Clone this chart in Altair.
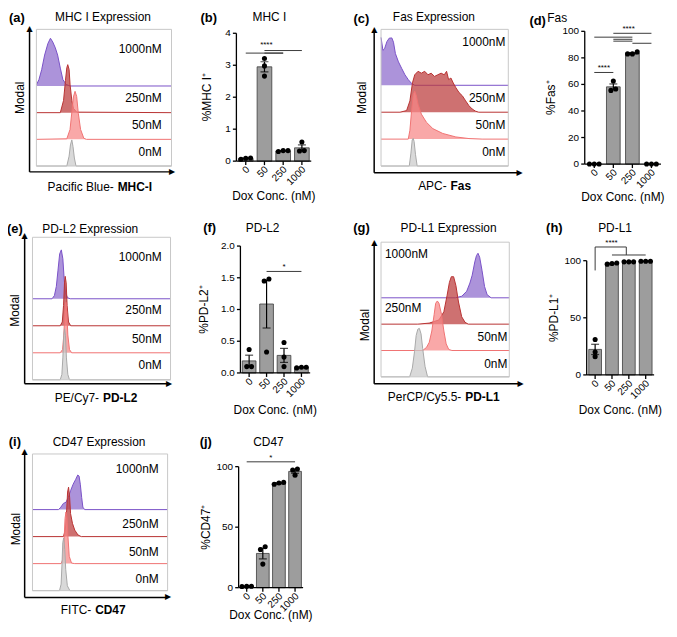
import altair as alt
import pandas as pd

FONT = "Liberation Sans"
W, H = 665, 615
SX, SY = 0.985, 0.982


def X(px):
    return round(px * SX, 2)


def Y(py):
    return round(py * SY, 2)


DOSES = ["0", "50", "250", "1000"]
ROW_NAMES = ["0nM", "50nM", "250nM", "1000nM"]

# ---------------- flow histograms: (position across box 0-100, height in row units) -------------
MHC_0 = [(22.5, 0), (24.2, 0.37), (25.2, 0.79), (26.2, 0.98), (27.1, 0.73), (28.1, 0.30), (29.3, 0)]
MHC_50 = [(22.5, 0.02), (24.9, 0.37), (26.4, 1.10), (27.4, 1.59), (28.6, 1.80), (29.8, 1.61), (31.0, 0.98),
          (32.7, 0.37), (35.1, 0.04), (37.0, 0)]
MHC_250 = [(17.7, 0), (20.1, 0.46), (21.5, 1.2), (22.5, 1.68), (23.2, 1.80), (24.2, 1.62), (24.9, 1.07),
           (26.2, 0.46), (27.4, 0.16), (29.8, 0.02)]
MHC_1000 = [(0, 0.04), (1.9, 0.24), (3.9, 0.61), (6.1, 1.16), (8.5, 1.59), (10.4, 1.79), (12.1, 1.65),
            (14.0, 1.43), (15.7, 1.16), (17.7, 0.67), (19.6, 0.24), (22.0, 0.06), (24.9, 0)]

FAS_0 = [(22.2, 0), (23.5, 0.48), (24.5, 0.97), (25.3, 1.03), (26.0, 0.91), (27.1, 0.42), (28.4, 0)]
FAS_50 = [(21.4, 0), (22.7, 0.33), (24.0, 1.05), (25.3, 1.66), (26.5, 1.78), (27.8, 1.60), (29.1, 1.30),
          (31.7, 0.93), (35.6, 0.63), (40.7, 0.39), (48.5, 0.21), (58.8, 0.08), (69.1, 0.02), (79.4, 0)]
FAS_250 = [(14.9, 0), (20.1, 0.06), (22.7, 0.42), (24.7, 1.09), (26.5, 1.39), (29.1, 1.52), (31.7, 1.45),
           (34.3, 1.52), (36.9, 1.39), (39.4, 1.45), (42.0, 1.33), (44.6, 1.39), (47.2, 1.45), (49.7, 1.39),
           (51.5, 1.52), (53.1, 1.21), (54.9, 1.27), (56.7, 1.09), (58.8, 0.91), (61.3, 0.73), (63.9, 0.61),
           (66.5, 0.42), (69.1, 0.24), (71.6, 0.12), (74.2, 0.04), (76.8, 0)]
FAS_1000 = [(0, 1.78), (1.5, 1.30), (2.8, 1.36), (4.6, 1.62), (6.4, 1.75), (8.5, 1.76), (9.8, 1.60),
            (11.3, 1.18), (13.7, 0.87), (16.2, 0.63), (18.8, 0.39), (21.4, 0.21), (24.0, 0.07), (26.5, 0)]

PDL2_0 = [(20.1, 0), (21.3, 0.20), (22.0, 0.81), (22.7, 1.65), (23.2, 1.89), (23.9, 1.65), (24.6, 0.81),
          (25.6, 0.20), (26.8, 0)]
PDL2_50 = [(20.1, 0), (21.8, 0.12), (22.7, 0.66), (23.5, 1.51), (24.2, 1.87), (24.9, 1.51), (25.6, 0.66),
           (26.8, 0.12), (28.4, 0)]
PDL2_250 = [(20.1, 0), (21.6, 0.14), (22.5, 0.75), (23.2, 1.59), (23.7, 1.83), (24.4, 1.59), (25.1, 0.75),
            (26.1, 0.14), (27.7, 0)]
PDL2_1000 = [(14.2, 0), (15.9, 0.12), (17.3, 0.46), (18.5, 1.06), (19.7, 1.66), (20.9, 1.81), (22.0, 1.48),
             (23.0, 0.70), (23.9, 0.22), (25.4, 0.04), (27.3, 0)]

PDL1_0 = [(22.3, 0), (24.4, 0.33), (26.1, 0.95), (27.4, 1.57), (28.7, 1.81), (29.9, 1.84), (31.2, 1.63),
          (32.5, 1.07), (34.3, 0.40), (36.3, 0)]
PDL1_50 = [(32.5, 0), (35.5, 0.12), (37.6, 0.31), (39.6, 0.74), (41.4, 1.36), (42.6, 1.79), (43.9, 1.88),
           (45.2, 1.79), (47.2, 1.36), (49.0, 0.74), (50.8, 0.25), (52.8, 0.04), (55.3, 0)]
PDL1_250 = [(28.7, 0), (37.6, 0.04), (45.2, 0.16), (49.0, 0.47), (51.5, 1.09), (53.3, 1.58), (54.8, 1.80),
            (56.6, 1.80), (58.4, 1.46), (60.4, 0.84), (62.9, 0.28), (65.5, 0.07), (68.0, 0)]
PDL1_1000 = [(57.9, 0), (63.0, 0.06), (66.8, 0.25), (69.3, 0.56), (71.1, 0.86), (73.1, 1.36), (74.4, 1.60),
             (75.6, 1.69), (76.9, 1.54), (78.7, 1.05), (80.7, 0.43), (82.7, 0.12), (85.8, 0)]

CD47_0 = [(20.0, 0), (21.2, 0.24), (21.9, 1.04), (22.4, 1.77), (23.1, 1.95), (23.9, 1.52), (24.6, 0.79),
          (25.8, 0.18), (27.7, 0)]
CD47_50 = [(21.2, 0), (22.4, 0.15), (23.4, 0.88), (24.1, 1.67), (24.8, 1.91), (25.5, 1.73), (26.3, 0.98),
           (27.2, 0.27), (28.9, 0.02), (31.3, 0)]
CD47_250 = [(22.9, 0), (24.3, 0.24), (25.3, 0.98), (26.0, 1.65), (26.7, 1.83), (27.5, 1.46), (28.2, 0.85),
            (29.6, 0.49), (31.3, 0.24), (33.7, 0.06), (36.1, 0)]
CD47_1000 = [(19.3, 0), (21.0, 0.09), (22.9, 0.23), (24.8, 0.27), (26.5, 0.45), (28.2, 0.70), (30.1, 0.94),
             (32.0, 1.12), (33.5, 1.28), (34.5, 1.24), (35.4, 0.94), (36.4, 0.45), (37.3, 0.09), (38.6, 0)]

# ---------------- bar panels: replicate values per dose ----------------
MHC_PCT = [[0.06, 0.10, 0.09], [3.21, 2.98, 2.66], [0.33, 0.33, 0.30], [0.60, 0.32, 0.33]]
FAS_PCT = [[0, 0, 0], [62.5, 56.5, 55.5], [84.5, 83.0, 83.0], [0, 0, 0]]
PDL2_PCT = [[0.37, 0.10, 0.10], [1.48, 1.45, 0.33], [0.48, 0.25, 0.10], [0.09, 0.09, 0.08]]
PDL1_PCT = [[31, 20, 16], [97.0, 97.5, 98.0], [99, 99, 99], [99.5, 99.5, 99.5]]
CD47_PCT = [[1.2, 1.0, 1.1], [33.8, 31.6, 19.5], [87.0, 85.5, 86.5], [98.0, 97.3, 93.0]]

# significance segments: (from dose index, to dose index, y start, y end); stars: (x, y, text)
MHC_SIG = [(0, 2, 3.38, 3.38), (1, 2, 3.38, 3.38), (1, 3, 3.46, 3.46)]
MHC_STARS = [(1.1, 3.62, "****")]
FAS_SIG = [(0, 1, 69, 69), (1, 3, 98.5, 98.5), (0, 2, 95.6, 95.6), (1, 2, 94, 94), (1, 2, 92.6, 92.6),
           (2, 3, 91, 91)]
FAS_STARS = [(0.5, 72.5, "****"), (1.8, 102, "****")]
PDL2_SIG = [(1, 3, 1.6, 1.6)]
PDL2_STARS = [(2, 1.67, "*")]
PDL1_SIG = [(0, 0, 91.5, 112), (0, 1.85, 112, 112), (1.85, 1.85, 112, 105), (1, 3, 105, 105)]
PDL1_STARS = [(0.97, 115.5, "****")]
CD47_SIG = [(0, 3, 104, 104)]
CD47_STARS = [(1.5, 107.5, "*")]

FILL = {"1000": "#8c6acc", "250": "#bb3a3a", "50": "#f68787", "0": "#cbcbcb"}
STROKE = {"1000": "#7a52c8", "250": "#b83232", "50": "#f07373", "0": "#a8a8a8"}
ONE = pd.DataFrame({"k": [0]})


def text(t, x, y, size=12, bold=False, align="center", angle=0, font=None):
    kw = dict(fontSize=size, fontWeight="bold" if bold else "normal", align=align,
              baseline="middle", color="black")
    if angle:
        kw["angle"] = angle
    if font:
        kw["font"] = font
    return alt.Chart(pd.DataFrame({"t": [t]})).mark_text(**kw).encode(
        text="t:N", x=alt.value(X(x)), y=alt.value(Y(y)))


def shaft(x1, y1, x2, y2):
    return alt.Chart(ONE).mark_rule(color="black", strokeWidth=1.5).encode(
        x=alt.value(X(x1)), x2=alt.value(X(x2)), y=alt.value(Y(y1)), y2=alt.value(Y(y2)))


def hist_panel(curves, box, row_h, labels, yarr, xarr, title, letter, modal, xtitle):
    bx0, bx1, by0, by1 = box
    top = (by1 - by0) / row_h
    xs = alt.Scale(domain=[0, 100], range=[X(bx0), X(bx1)], nice=False, zero=False)
    ys = alt.Scale(domain=[0, top], range=[Y(by1), Y(by0)], nice=False, zero=False)

    layers = []
    for r in [3, 2, 1, 0]:
        dose = DOSES[r]
        pts = list(curves[r])
        if pts[0][0] > 0:
            pts = [(0.0, 0.0)] + pts
        if pts[-1][0] < 100:
            pts = pts + [(100.0, 0.0)]
        df = pd.DataFrame({"u": [p[0] for p in pts], "top": [r + p[1] for p in pts],
                           "base": [r] * len(pts)})
        enc = dict(x=alt.X("u:Q", scale=xs, axis=None), y=alt.Y("top:Q", scale=ys, axis=None))
        layers.append(alt.Chart(df).mark_area(color=FILL[dose], opacity=0.72).encode(**enc, y2="base:Q"))
        layers.append(alt.Chart(df).mark_line(color=STROKE[dose], strokeWidth=1).encode(**enc))
    frame_df = pd.DataFrame({"a": [0, 0, 0, 100], "b": [100, 100, 0, 100],
                             "c": [0, top, 0, 0], "d": [0, top, top, top]})
    layers.append(alt.Chart(frame_df).mark_rule(color="#c8c8c8", strokeWidth=1).encode(
        x=alt.X("a:Q", scale=xs, axis=None), x2="b:Q",
        y=alt.Y("c:Q", scale=ys, axis=None), y2="d:Q"))
    for name, (lx, ly, al) in zip(ROW_NAMES, labels):
        layers.append(text(name, lx, ly, align=al))

    # axis arrows beside the box
    ax, ay0, ay1 = yarr
    by, bxs, bxe = xarr
    layers.append(shaft(ax, ay0, ax, ay1 + 5))
    layers.append(shaft(bxs, by, bxe - 5, by))
    layers.append(text("▲", ax, ay1 + 3.5, size=8, font="DejaVu Sans"))
    layers.append(text("▶", bxe - 3.5, by, size=8, font="DejaVu Sans"))

    layers.append(text(title[0], title[1], title[2]))
    layers.append(text(letter[0], letter[1], letter[2], size=13, bold=True))
    layers.append(text("Modal", modal[0], modal[1], angle=270))
    reg, bold, split, ty = xtitle
    layers.append(text(reg, split - 2, ty, align="right"))
    layers.append(text(bold, split + 2, ty, bold=True, align="left"))
    return alt.layer(*layers)


def bar_panel(values, xr, yr, ydom, ticks, fmt, bw, ytitle, ytx, xty, sig, stars, title, letter):
    x0, x1 = xr
    yb, yt = yr
    n = len(DOSES)
    ppx = (X(x1) - X(x0)) / n                      # pixels per dose slot
    ppy = (Y(yb) - Y(yt)) / (ydom[1] - ydom[0])   # pixels per value unit
    xs = alt.Scale(domain=[-0.5, n - 0.5], range=[X(x0), X(x1)], nice=False, zero=False)
    ys = alt.Scale(domain=list(ydom), range=[Y(yb), Y(yt)], nice=False, zero=False)
    thr = (ydom[1] - ydom[0]) * 0.035
    slot = 5.5 / ppx
    rows = []
    for i, vals in enumerate(values):
        idx = sorted(range(len(vals)), key=lambda k: vals[k])
        clusters = [[idx[0]]]
        for a, b in zip(idx, idx[1:]):
            if vals[b] - vals[a] < thr:
                clusters[-1].append(b)
            else:
                clusters.append([b])
        for cl in clusters:
            m = len(cl)
            for j, k in enumerate(cl):
                rows.append({"xi": i, "xj": i + (j - (m - 1) / 2) * slot, "v": vals[k]})
    df = pd.DataFrame(rows)

    xq = alt.X("xi:Q", scale=xs, axis=None)
    agg = alt.Chart(df).transform_aggregate(
        m="mean(v)", s="stderr(v)", groupby=["xi"]
    ).transform_calculate(lo="datum.m - datum.s", hi="datum.m + datum.s")
    layers = [
        agg.mark_bar(size=bw * SX, orient="vertical", color="#9d9d9d", stroke="#3c3c3c",
                     strokeWidth=0.8).encode(x=xq, y=alt.Y("m:Q", scale=ys, axis=None)),
        agg.mark_rule(color="black", strokeWidth=1.2).encode(
            x=xq, y=alt.Y("lo:Q", scale=ys, axis=None), y2="hi:Q"),
        agg.mark_tick(orient="horizontal", size=8, thickness=1.2, color="black").encode(
            x=xq, y=alt.Y("hi:Q", scale=ys, axis=None)),
        agg.mark_tick(orient="horizontal", size=8, thickness=1.2, color="black").encode(
            x=xq, y=alt.Y("lo:Q", scale=ys, axis=None)),
        alt.Chart(df).mark_circle(size=26, color="black", opacity=1).encode(
            x=alt.X("xj:Q", scale=xs, axis=None), y=alt.Y("v:Q", scale=ys, axis=None)),
    ]
    lo_x = -0.5
    y0 = ydom[0]
    dom_df = pd.DataFrame({"a": [lo_x, lo_x], "b": [lo_x, n - 0.5], "c": [y0, y0], "d": [ydom[1], y0]})
    ytick_df = pd.DataFrame({"t": ticks, "a": [lo_x] * len(ticks), "b": [lo_x - 4 / ppx] * len(ticks),
                             "l": [lo_x - 6.5 / ppx] * len(ticks),
                             "lbl": [format(t, fmt) for t in ticks]})
    xtick_df = pd.DataFrame({"i": list(range(n)), "c": [y0] * n, "d": [y0 - 4 / ppy] * n,
                             "li": [i + 2.5 / ppx for i in range(n)], "lv": [y0 - 7 / ppy] * n,
                             "lbl": DOSES})
    layers.append(alt.Chart(dom_df).mark_rule(color="black", strokeWidth=1.3).encode(
        x=alt.X("a:Q", scale=xs, axis=None), x2="b:Q", y=alt.Y("c:Q", scale=ys, axis=None), y2="d:Q"))
    layers.append(alt.Chart(ytick_df).mark_rule(color="black", strokeWidth=1.3).encode(
        x=alt.X("a:Q", scale=xs, axis=None), x2="b:Q", y=alt.Y("t:Q", scale=ys, axis=None)))
    layers.append(alt.Chart(ytick_df).mark_text(fontSize=10, align="right", baseline="middle",
                                                color="black").encode(
        x=alt.X("l:Q", scale=xs, axis=None), y=alt.Y("t:Q", scale=ys, axis=None), text="lbl:N"))
    layers.append(alt.Chart(xtick_df).mark_rule(color="black", strokeWidth=1.3).encode(
        x=alt.X("i:Q", scale=xs, axis=None), y=alt.Y("c:Q", scale=ys, axis=None), y2="d:Q"))
    layers.append(alt.Chart(xtick_df).mark_text(fontSize=10, align="right", baseline="middle",
                                                angle=315, color="black").encode(
        x=alt.X("li:Q", scale=xs, axis=None), y=alt.Y("lv:Q", scale=ys, axis=None), text="lbl:N"))
    layers.append(text(ytitle, ytx, (yb + yt) / 2, angle=270))
    layers.append(text("Dox Conc. (nM)", (x0 + x1) / 2, xty))
    sig_df = pd.DataFrame(sig, columns=["a", "b", "y1", "y2"])
    layers.append(alt.Chart(sig_df).mark_rule(color="#3a3a3a", strokeWidth=1).encode(
        x=alt.X("a:Q", scale=xs, axis=None), x2="b:Q",
        y=alt.Y("y1:Q", scale=ys, axis=None), y2="y2:Q"))
    star_df = pd.DataFrame(stars, columns=["sx", "sy", "t"])
    layers.append(alt.Chart(star_df).mark_text(fontSize=8, baseline="middle", color="black").encode(
        x=alt.X("sx:Q", scale=xs, axis=None), y=alt.Y("sy:Q", scale=ys, axis=None), text="t:N"))
    layers.append(text(title[0], title[1], title[2]))
    layers.append(text(letter[0], letter[1], letter[2], size=13, bold=True))
    return alt.layer(*layers)


panels = [
    hist_panel([MHC_0, MHC_50, MHC_250, MHC_1000], (29, 167, 20, 160), 27.33,
               [(157, 146, "right"), (157, 118, "right"), (157, 90, "right"), (157, 40, "right")],
               (22, 166, 16), (166, 22, 171), ("MHC I Expression", 97, 7), ("(a)", 9, 8), (12, 90),
               ("Pacific Blue-", "MHC-I", 110, 182)),
    bar_panel(MHC_PCT, (228.2, 314.8), (155, 24), (0, 4), [0, 1, 2, 3, 4], "d", 15, "%MHC I⁺", 203, 191,
              MHC_SIG, MHC_STARS, ("MHC I", 267, 7), ("(b)", 205, 8)),
    hist_panel([FAS_0, FAS_50, FAS_250, FAS_1000], (381, 511, 20, 160), 27.57,
               [(508, 146, "right"), (508, 118, "right"), (508, 90, "right"), (508, 33, "right")],
               (374, 167, 17), (167, 374, 526), ("Fas Expression", 435, 7), ("(c)", 361, 9), (362, 90),
               ("APC-", "Fas", 450, 180)),
    bar_panel(FAS_PCT, (584, 672), (158, 22), (0, 100), [0, 20, 40, 60, 80, 100], "d", 14, "%Fas⁺", 555, 192,
              FAS_SIG, FAS_STARS, ("Fas", 561, 8), ("(d)", 541, 11)),
    hist_panel([PDL2_0, PDL2_50, PDL2_250, PDL2_1000], (25, 166, 233, 379), 27.67,
               [(157, 364, "right"), (157, 337, "right"), (157, 308, "right"), (157, 253, "right")],
               (17, 383, 228), (383, 17, 168), ("PD-L2 Expression", 84, 225), ("(e)", 7, 225), (7, 308),
               ("PE/Cy7-", "PD-L2", 95, 398)),
    bar_panel(PDL2_PCT, (232.3, 313.7), (372, 242), (0, 2), [0, 0.5, 1, 1.5, 2], ".1f", 14, "%PD-L2⁺", 200,
              410, PDL2_SIG, PDL2_STARS, ("PD-L2", 260, 224), ("(f)", 206, 224)),
    hist_panel([PDL1_0, PDL1_50, PDL1_250, PDL1_1000], (381, 512, 238, 376), 27.0,
               [(510, 363, "right"), (510, 335, "right"), (385, 305, "left"), (385, 250, "left")],
               (374, 383, 235), (383, 374, 527), ("PD-L1 Expression", 450, 224), ("(g)", 361, 224),
               (365, 323), ("PerCP/Cy5.5-", "PD-L1", 465, 397)),
    bar_panel(PDL1_PCT, (586, 665), (374, 257), (0, 100), [0, 50, 100], "d", 13, "%PD-L1⁺", 558, 410,
              PDL1_SIG, PDL1_STARS, ("PD-L1", 620, 224), ("(h)", 558, 224)),
    hist_panel([CD47_0, CD47_50, CD47_250, CD47_1000], (25, 163, 455, 595), 27.67,
               [(154, 583, "right"), (154, 555, "right"), (154, 527, "right"), (154, 470, "right")],
               (17, 602, 449), (602, 17, 167), ("CD47 Expression", 93, 443), ("(i)", 7, 443), (8, 532),
               ("FITC-", "CD47", 87, 615)),
    bar_panel(CD47_PCT, (230.5, 306.5), (592, 468), (0, 100), [0, 50, 100], "d", 13, "%CD47⁺", 202, 620,
              CD47_SIG, CD47_STARS, ("CD47", 266, 443), ("(j)", 202, 443)),
]

chart = alt.layer(*panels).resolve_scale(x="independent", y="independent").properties(
    width=W, height=H, padding=0, autosize=alt.AutoSizeParams(type="none")
).configure(font=FONT).configure_view(stroke=None)

chart.save("out.html", embed_options={"renderer": "svg", "actions": False})
